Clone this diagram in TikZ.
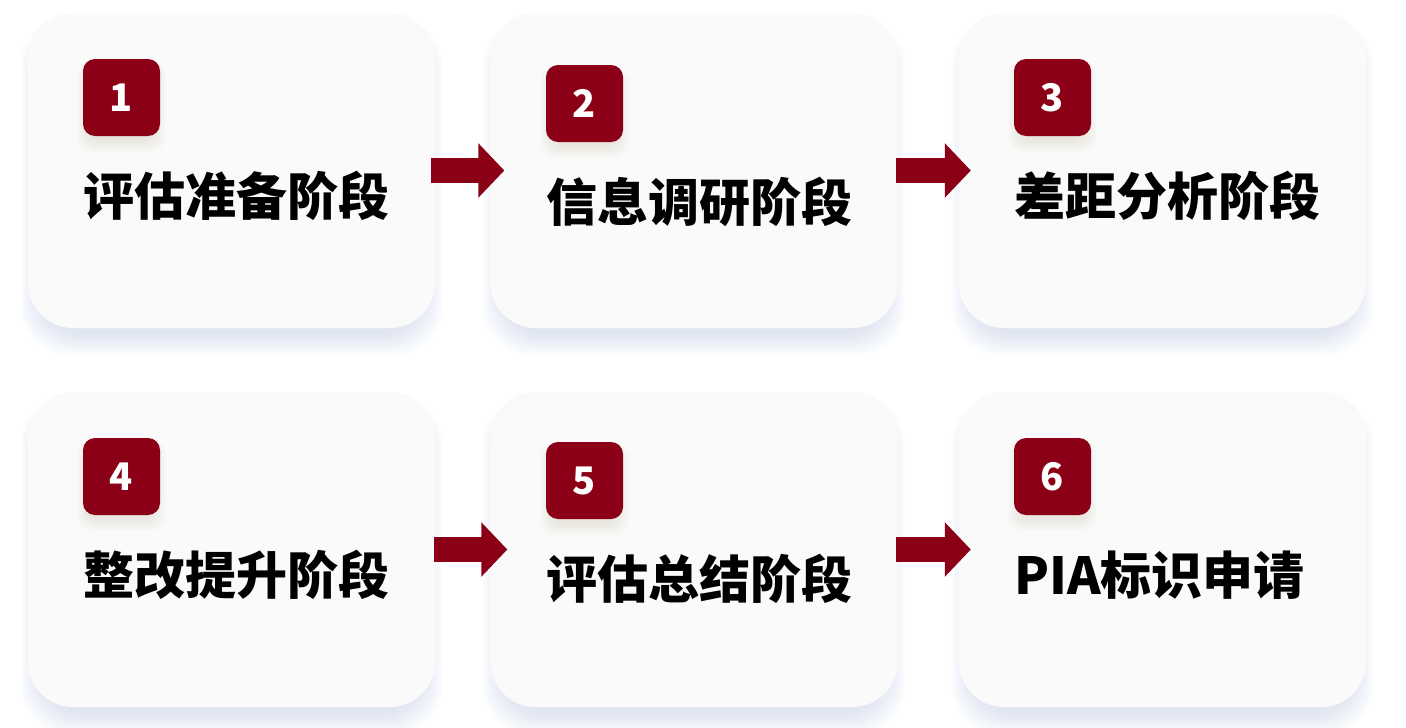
\documentclass[tikz,border=0pt]{standalone}
\usepackage{fontspec}
\newfontfamily\cjk{Noto Sans CJK SC}
\usetikzlibrary{arrows.meta,calc}
\definecolor{pred}{HTML}{8B0016}
\definecolor{boxfill}{HTML}{FAFAFA}
\definecolor{shc}{HTML}{C9D2EE}
\definecolor{bshc}{HTML}{C8C2A8}
\pgfdeclarelayer{bg}
\pgfsetlayers{bg,main}
\newcommand\cardshadow[1]{%
  \foreach \k in {0,...,13}{%
    \fill[shc,opacity=0.045,rounded corners=48pt]
      ($(#1.north west)+(12-1.5*\k,18-\k)$) rectangle ($(#1.south east)+(-12+1.5*\k,6+1.6*\k)$);}}
\newcommand\badgeshadow[1]{%
  \foreach \k in {0,...,6}{%
    \fill[bshc,opacity=0.05,rounded corners=14pt]
      ($(#1.north west)+(6-2*\k,8-\k)$) rectangle ($(#1.south east)+(-6+2*\k,4+2*\k)$);}}
\begin{document}
\begin{tikzpicture}[x=1pt,y=-1pt,
  card/.style={rounded corners=45pt, fill=boxfill, minimum width=407pt, minimum height=315pt, inner sep=0pt},
  badge/.style={rounded corners=12pt, fill=pred, minimum width=77pt, minimum height=77pt, inner sep=0pt, text=white, font=\cjk\bfseries\fontsize{38}{38}\selectfont},
  stage/.style={anchor=west, inner sep=0pt, font=\cjk\bfseries\fontsize{51}{51}\selectfont, text=black},
  flow/.style={draw=pred, line width=25pt, -{Triangle[length=26pt,width=53pt]}}]
\useasboundingbox (0,0) rectangle (1406,728);

% cards
\node[card] (c1) at (231.5,170.5) {};
\node[card] (c2) at (694,170.5) {};
\node[card] (c3) at (1162.5,170.5) {};
\node[card] (c4) at (231.5,549.5) {};
\node[card] (c5) at (694,549.5) {};
\node[card] (c6) at (1162.5,549.5) {};

% badge shadows (drawn on cards, below badges)
\path (121.5,97.5) coordinate (p1) (584.5,103.5) coordinate (p2) (1052.5,97.5) coordinate (p3)
      (121.5,476.5) coordinate (p4) (584.5,480.5) coordinate (p5) (1052.5,476.5) coordinate (p6);
\foreach \i in {1,...,6}{%
  \foreach \k in {0,...,6}{%
    \fill[bshc,opacity=0.05,rounded corners=14pt]
      ($(p\i)+(-32.5-2*\k,-30.5-\k)$) rectangle ($(p\i)+(32.5+2*\k,42.5+2*\k)$);}}

% badges
\node[badge] (n1) at (p1) {1};
\node[badge] (n2) at (p2) {2};
\node[badge] (n3) at (p3) {3};
\node[badge] (n4) at (p4) {4};
\node[badge] (n5) at (p5) {5};
\node[badge] (n6) at (p6) {6};

% stage titles
\node[stage] (t1) at (83,196) {评估准备阶段};
\node[stage] (t2) at (546,202) {信息调研阶段};
\node[stage] (t3) at (1014,196) {差距分析阶段};
\node[stage] (t4) at (83,575) {整改提升阶段};
\node[stage] (t5) at (546,579) {评估总结阶段};
\node[stage] (t6) at (1014,575) {PIA标识申请};

% arrows
\draw[flow] ($(c1.east)+(-4,0)$) -- ($(c2.west)+(14,0)$);
\draw[flow] ($(c2.east)+(-2,0)$) -- ($(c3.west)+(12,0)$);
\draw[flow] ($(c4.east)+(-1,0)$) -- ($(c5.west)+(17,0)$);
\draw[flow] ($(c5.east)+(-2,0)$) -- ($(c6.west)+(12,0)$);

\begin{pgfonlayer}{bg}
  \fill[white] (0,0) rectangle (1406,728);
  \cardshadow{c1}\cardshadow{c2}\cardshadow{c3}
  \cardshadow{c4}\cardshadow{c5}\cardshadow{c6}
\end{pgfonlayer}
\end{tikzpicture}
\end{document}
